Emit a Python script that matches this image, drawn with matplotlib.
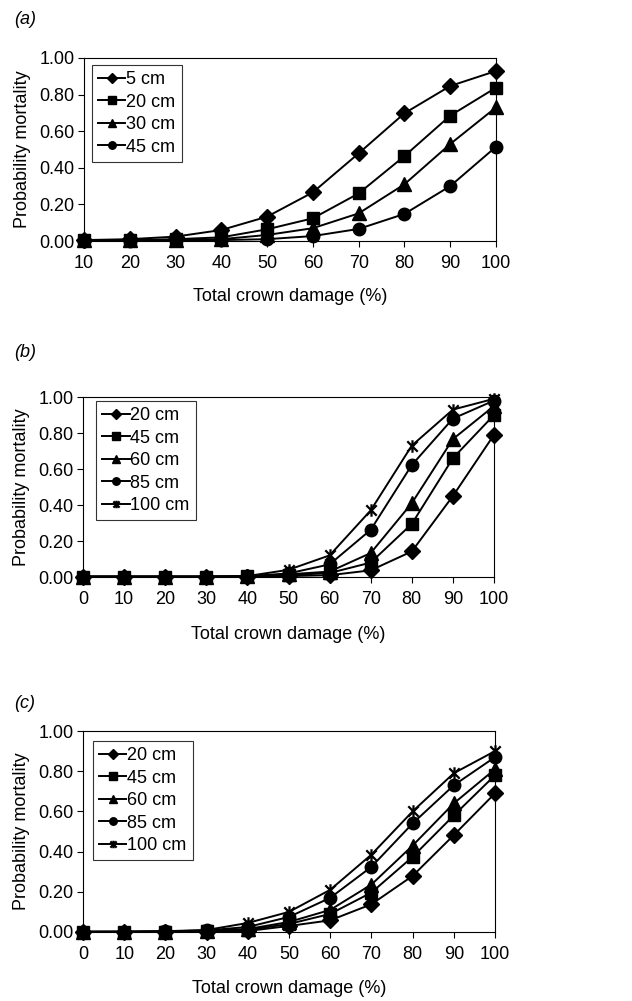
import matplotlib
matplotlib.use('Agg')
import matplotlib.pyplot as plt
from matplotlib.path import Path

plt.rcParams['font.family'] = ['Liberation Sans', 'DejaVu Sans']

fontsize = 13

# panel (a)
damage_a = [10, 20, 30, 40, 50, 60, 70, 80, 90, 100]
labels_a = ['5 cm', '20 cm', '30 cm', '45 cm']
p5_a = [0.005, 0.01, 0.024, 0.06, 0.133, 0.266, 0.479, 0.698, 0.847, 0.929]
p20_a = [0.005, 0.005, 0.01, 0.02, 0.064, 0.124, 0.26, 0.464, 0.685, 0.838]
p30_a = [0.003, 0.003, 0.005, 0.01, 0.033, 0.07, 0.151, 0.31, 0.53, 0.73]
p45_a = [0.002, 0.002, 0.003, 0.005, 0.01, 0.027, 0.066, 0.148, 0.30, 0.515]

# panel (b)
damage_b = [0, 10, 20, 30, 40, 50, 60, 70, 80, 90, 100]
labels_bc = ['20 cm', '45 cm', '60 cm', '85 cm', '100 cm']
p20_b = [0.002, 0.002, 0.002, 0.002, 0.002, 0.005, 0.01, 0.037, 0.142, 0.45, 0.79]
p45_b = [0.002, 0.002, 0.002, 0.002, 0.003, 0.01, 0.022, 0.08, 0.295, 0.66, 0.90]
p60_b = [0.002, 0.002, 0.002, 0.002, 0.004, 0.015, 0.03, 0.133, 0.41, 0.766, 0.95]
p85_b = [0.002, 0.002, 0.002, 0.002, 0.004, 0.02, 0.07, 0.262, 0.622, 0.88, 0.98]
p100_b = [0.002, 0.002, 0.002, 0.002, 0.005, 0.04, 0.12, 0.37, 0.73, 0.93, 0.99]

# panel (c)
damage_c = [0, 10, 20, 30, 40, 50, 60, 70, 80, 90, 100]
p20_c = [0.001, 0.001, 0.001, 0.001, 0.005, 0.03, 0.058, 0.138, 0.279, 0.482, 0.69]
p45_c = [0.001, 0.001, 0.002, 0.005, 0.01, 0.04, 0.09, 0.196, 0.374, 0.58, 0.78]
p60_c = [0.001, 0.001, 0.002, 0.006, 0.015, 0.05, 0.11, 0.236, 0.43, 0.64, 0.81]
p85_c = [0.001, 0.001, 0.003, 0.008, 0.025, 0.075, 0.17, 0.324, 0.54, 0.73, 0.87]
p100_c = [0.001, 0.002, 0.004, 0.01, 0.045, 0.10, 0.21, 0.385, 0.60, 0.79, 0.90]

# excel style star: an X with a vertical bar
star = Path([(-1, -1), (1, 1), (-1, 1), (1, -1), (0, -1.2), (0, 1.2)],
            [Path.MOVETO, Path.LINETO, Path.MOVETO, Path.LINETO, Path.MOVETO, Path.LINETO])

markers = ['D', 's', '^', 'o', star]
msizes = [8.5, 9, 9.5, 9, 9]

fig = plt.figure(figsize=(6.32, 10.01), dpi=100)


def draw_panel(rect, x, series, labels, tag, tag_y, leg_anchor, xlab_y):
    ax = fig.add_axes(rect)
    for i, (y, lab) in enumerate(zip(series, labels)):
        ax.plot(x, y, color='black', lw=1.4, marker=markers[i], ms=msizes[i],
                mfc='black', mec='black', mew=1.6 if i == 4 else 1.0, label=lab,
                clip_on=False, zorder=3 + i)
    ax.set_xlim(x[0], x[-1])
    ax.set_ylim(0, 1)
    ax.set_xticks(x)
    ax.set_yticks([0, 0.2, 0.4, 0.6, 0.8, 1.0])
    ax.set_yticklabels(['%.2f' % v for v in [0, 0.2, 0.4, 0.6, 0.8, 1.0]])
    ax.tick_params(direction='out', length=4, width=0.8, labelsize=fontsize)
    ax.tick_params(axis='x', pad=6)
    ax.tick_params(axis='y', pad=3)
    for s in ax.spines.values():
        s.set_linewidth(0.8)
    ax.set_ylabel('Probability mortality', fontsize=fontsize)
    ax.yaxis.set_label_coords(-0.128, 0.5)
    ax.set_xlabel('Total crown damage (%)', fontsize=fontsize)
    ax.xaxis.set_label_coords(0.5, xlab_y)
    leg = ax.legend(loc='upper left', bbox_to_anchor=leg_anchor, borderaxespad=0,
                    fontsize=fontsize, frameon=True, fancybox=False, markerscale=0.6,
                    handlelength=1.5, handletextpad=0.05, labelspacing=0.3,
                    borderpad=0.35)
    leg.get_frame().set_edgecolor('black')
    leg.get_frame().set_linewidth(0.8)
    fig.text(14 / 632, 1 - tag_y / 1001, tag, fontsize=13, style='italic', va='center')
    return ax


draw_panel([84 / 632, 1 - 241 / 1001, 412 / 632, 183 / 1001], damage_a,
           [p5_a, p20_a, p30_a, p45_a], labels_a, '(a)', 20, (0.019, 0.962), -0.255)
draw_panel([83 / 632, 1 - 577 / 1001, 411 / 632, 180 / 1001], damage_b,
           [p20_b, p45_b, p60_b, p85_b, p100_b], labels_bc, '(b)', 353, (0.032, 0.978), -0.27)
draw_panel([83 / 632, 1 - 932 / 1001, 412 / 632, 201 / 1001], damage_c,
           [p20_c, p45_c, p60_c, p85_c, p100_c], labels_bc, '(c)', 703, (0.024, 0.950), -0.24)

fig.savefig('out.png', dpi=100)
